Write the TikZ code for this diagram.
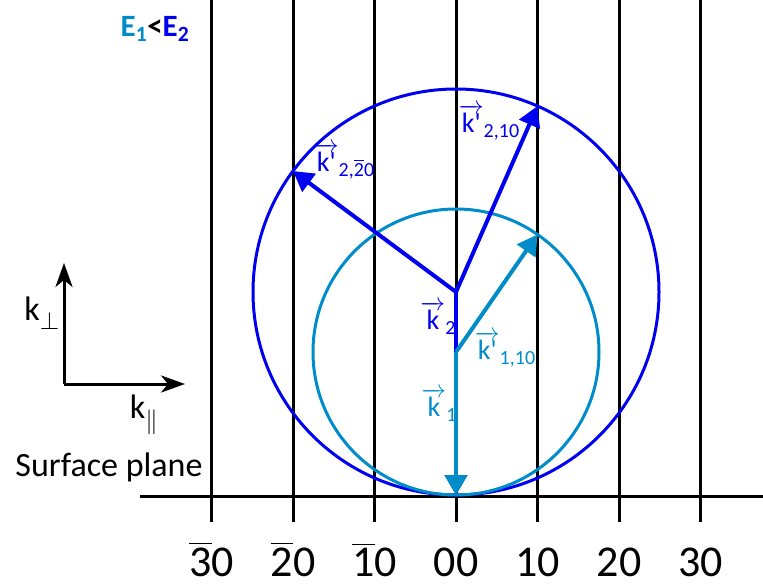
\documentclass[tikz,border=0pt]{standalone}
\usepackage{amsmath}
\usepackage{fontspec}
\setmainfont{Carlito}
\usetikzlibrary{arrows.meta}
\definecolor{dblue}{RGB}{0,0,240}
\definecolor{lblue}{RGB}{0,140,200}
\newcommand{\vk}[2]{$\overrightarrow{\text{#1}}$\raisebox{-5pt}{\fontsize{20}{24}\selectfont #2}}
\newcommand{\barred}[1]{$\overline{\text{#1}}$}
\tikzset{
  gridline/.style={black, line width=3pt},
  bigcirc/.style={draw=dblue, line width=3pt},
  smallcirc/.style={draw=lblue, line width=3pt},
  vecd/.style={dblue, line width=4pt, -{Triangle[length=20pt,width=22pt]}},
  vecl/.style={lblue, line width=4pt, -{Triangle[length=20pt,width=22pt]}},
  axisarrow/.style={black, line width=3pt, -{Stealth[length=24pt,width=17pt,inset=7pt]}},
  klabel/.style={inner sep=0pt, font=\fontsize{28}{32}\selectfont},
  axlabel/.style={inner sep=0pt, font=\fontsize{34}{40}\selectfont},
  idx/.style={inner sep=0pt, anchor=base, font=\fontsize{44}{50}\selectfont},
}
\begin{document}
\begin{tikzpicture}[x=1pt,y=-1pt]
\useasboundingbox (0,0) rectangle (763,588);
% grid
\foreach \n/\x in {m3/211.5,m2/293,m1/374.5,z/456,p1/537.5,p2/619,p3/700.5}{
  \coordinate (top\n) at (\x,0);
  \coordinate (bot\n) at (\x,522);
  \draw[gridline] (top\n) -- (bot\n);
}
\coordinate (sl) at (140,496);
\coordinate (sr) at (763,496);
\draw[gridline] (sl) -- (sr);
% centres and tips
\coordinate (c1) at (456,352);
\coordinate (c2) at (456,292);
\coordinate (O) at (456,495);
\coordinate (t110) at (537.5,234.5);
\coordinate (t210) at (537.5,106);
\coordinate (t220) at (293,171);
% circles
\draw[bigcirc] (c2) circle[radius=203];
\draw[smallcirc] (c1) circle[radius=143];
% vectors
\draw[vecd] (c2) -- (O);
\draw[vecd] (c2) -- (t210);
\draw[vecd] (c2) -- (t220);
\draw[vecl] (c1) -- (O);
\draw[vecl] (c1) -- (t110);
% vector labels
\node[klabel, text=dblue] (lk220) at (344,161) {\vk{k\textquotesingle}{2,\barred{2}0}};
\node[klabel, text=dblue] (lk210) at (489,122) {\vk{k\textquotesingle}{2,10}};
\node[klabel, text=dblue] (lk2) at (438,318) {\vk{k}{2}};
\node[klabel, text=lblue] (lk110) at (505,349) {\vk{k\textquotesingle}{1,10}};
\node[klabel, text=lblue] (lk1) at (439,405) {\vk{k}{1}};
% axes
\coordinate (ax0) at (64,384);
\coordinate (axu) at (64,263);
\coordinate (axr) at (185,384);
\draw[axisarrow] (ax0) -- (axu);
\draw[axisarrow] (ax0) -- (axr);
\node[axlabel] (kperp) at (42,313) {k$_{\perp}$};
\node[axlabel] (kpar) at (144,415) {k$_{\|}$};
\node[axlabel] (surf) at (109,467) {Surface plane};
% title
\node[inner sep=0pt, font=\fontsize{31}{36}\selectfont\bfseries] (title) at (155,29)
  {\textcolor{lblue}{E\textsubscript{1}}<\textcolor{dblue}{E\textsubscript{2}}};
% indices
\node[idx] (i1) at (211.5,576) {\barred{3}0};
\node[idx] (i2) at (293,576) {\barred{2}0};
\node[idx] (i3) at (374.5,576) {\barred{1}0};
\node[idx] (i4) at (456,576) {00};
\node[idx] (i5) at (537.5,576) {10};
\node[idx] (i6) at (619,576) {20};
\node[idx] (i7) at (700.5,576) {30};
\end{tikzpicture}
\end{document}
